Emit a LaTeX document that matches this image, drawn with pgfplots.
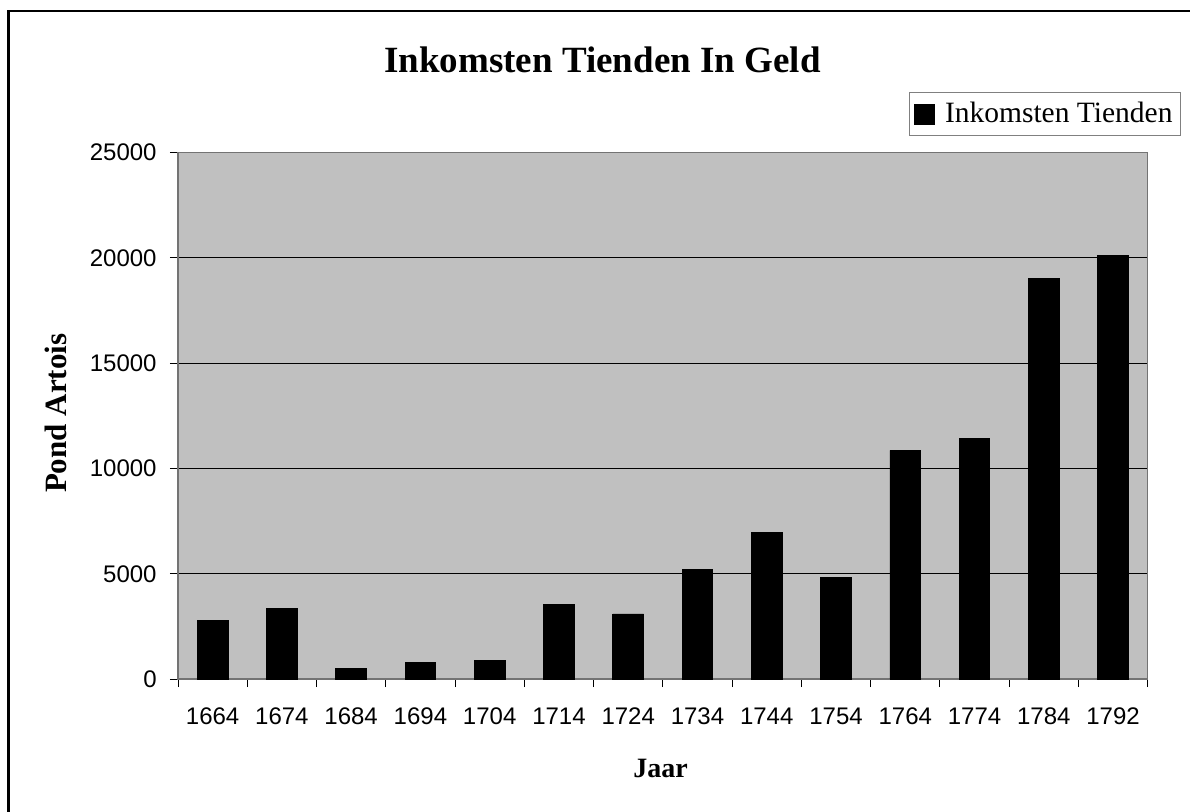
\documentclass[border=0pt]{standalone}
\usepackage{fontspec}
\setmainfont{Liberation Serif}
\newfontfamily\arialfont{Liberation Sans}
\usepackage{pgfplots}
\pgfplotsset{compat=1.18}
\definecolor{bgray}{HTML}{C0C0C0}
\begin{document}
\begin{tikzpicture}
\path[use as bounding box] (0,0) rectangle (595pt,-406pt);
\draw[line width=1.3pt] (4.15pt,-412pt) -- (4.15pt,-5.5pt) -- (600pt,-5.5pt);
\begin{axis}[
  at={(89pt,-339.5pt)}, anchor=south west,
  scale only axis, width=484.85pt, height=263.15pt,
  xmin=-0.5, xmax=13.5, ymin=0, ymax=25000,
  axis background/.style={fill=bgray},
  axis line style={draw=black!55, line width=0.6pt},
  ytick={0,5000,10000,15000,20000,25000},
  ymajorgrids, major grid style={black, line width=0.5pt},
  tick align=outside, major tick length=4pt,
  tick style={black, line width=0.5pt},
  xtick pos=bottom, ytick pos=left,
  xtick={-0.5,0.5,1.5,2.5,3.5,4.5,5.5,6.5,7.5,8.5,9.5,10.5,11.5,12.5,13.5},
  xticklabels={},
  extra x ticks={0,1,2,3,4,5,6,7,8,9,10,11,12,13},
  extra x tick labels={1664,1674,1684,1694,1704,1714,1724,1734,1744,1754,1764,1774,1784,1792},
  extra x tick style={major tick length=0pt},
  xticklabel style={anchor=center, yshift=-18.5pt},
  ticklabel style={font=\arialfont\fontsize{12}{14}\selectfont},
  /pgf/number format/assume math mode=true,
  /pgf/number format/1000 sep={},
  scaled y ticks=false,
  yticklabel style={anchor=east, inner sep=0pt, xshift=-6.5pt},
  every axis title shift=0pt,
  title={Inkomsten Tienden In Geld},
  title style={at={(0.4378,1.152)}, anchor=base, font=\bfseries\fontsize{18.5}{22}\selectfont},
  xlabel={Jaar},
  xlabel style={at={(0.4976,-0.1868)}, anchor=base, font=\bfseries\fontsize{14}{17}\selectfont},
  ylabel={Pond Artois},
  ylabel style={at={(-0.1148,0.5048)}, anchor=base, font=\bfseries\fontsize{15.5}{18}\selectfont},
  legend style={at={(1.0344,1.1153)}, anchor=north east, draw=black!50, line width=0.5pt,
    fill=white, font=\fontsize{14.75}{17}\selectfont, inner xsep=2pt, inner ysep=3pt,
    legend cell align=left,
    /tikz/every odd column/.append style={column sep=3.2pt}},
  legend image code/.code={\fill[black] (0pt,-5pt) rectangle (10pt,5pt);},
]
\addplot[ybar, bar width=0.443, fill=black, draw=black] coordinates {
  (0,2800) (1,3360) (2,490) (3,775) (4,870) (5,3550) (6,3090)
  (7,5210) (8,6970) (9,4845) (10,10860) (11,11410) (12,19025) (13,20135)
};
\addlegendentry{Inkomsten Tienden}
\end{axis}
\end{tikzpicture}
\end{document}
